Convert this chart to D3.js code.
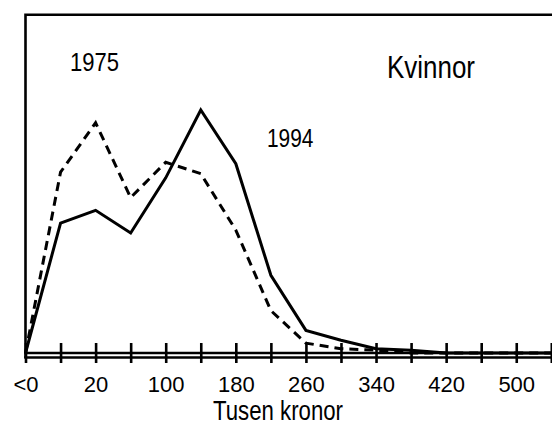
<!DOCTYPE html>
<html>
<head>
<meta charset="utf-8">
<script src="https://cdn.jsdelivr.net/npm/d3@7"></script>
<style>
  html, body { margin: 0; padding: 0; background: #fff; }
  svg { display: block; }
</style>
</head>
<body>
<svg id="chart" width="552" height="429"></svg>
<script>
// ---- data ----
const categories = ["<0","0","20","60","100","140","180","220","260","300","340","380","420","460","500","540"];
const tickLabels = ["<0","20","100","180","260","340","420","500"];
const women1994 = [0, 9.2, 10.1, 8.5, 12.4, 17.2, 13.4, 5.5, 1.6, 0.9, 0.3, 0.2, 0, 0, 0, 0];
const women1975 = [0, 12.8, 16.3, 11.0, 13.5, 12.7, 8.7, 3.0, 0.7, 0.3, 0.2, 0, 0, 0, 0, 0];
const seriesLabels = ["1975", "1994"];
const title = "Kvinnor";
const xTitle = "Tusen kronor";

// ---- layout ----
const svg = d3.select("#chart");
const narrow = "'Liberation Sans Narrow', 'Arial Narrow', 'Liberation Sans', Arial, sans-serif";
const regular = "'Liberation Sans', Arial, sans-serif";

const x = d3.scalePoint().domain(categories).range([25.5, 551.3]).padding(0);
const y = d3.scaleLinear().domain([0, 24]).range([353, 14]);

// frame (left + top border)
svg.append("path")
  .attr("d", `M25.5,358 V14.7 H560`)
  .attr("fill", "none").attr("stroke", "#000").attr("stroke-width", 2.6);

// data lines
const line = d3.line()
  .x((d, i) => x(categories[i]))
  .y(d => y(d));

svg.append("path")
  .datum(women1975)
  .attr("d", line)
  .attr("fill", "none").attr("stroke", "#000")
  .attr("stroke-width", 3).attr("stroke-dasharray", "9,6")
  .attr("stroke-linejoin", "miter");

svg.append("path")
  .datum(women1994)
  .attr("d", line)
  .attr("fill", "none").attr("stroke", "#000")
  .attr("stroke-width", 3)
  .attr("stroke-linejoin", "miter");

// double axis line
[y(0), y(0) + 4.5].forEach(yy => {
  svg.append("line")
    .attr("x1", 24.2).attr("x2", 560).attr("y1", yy).attr("y2", yy)
    .attr("stroke", "#000").attr("stroke-width", 2.6);
});

// axis with ticks crossing the double line
const axis = d3.axisBottom(x)
  .tickValues(categories)
  .tickSize(20)
  .tickPadding(13)
  .tickFormat(d => tickLabels.includes(d) ? d : "");

const gAxis = svg.append("g")
  .attr("transform", `translate(0,343)`)
  .call(axis);
gAxis.select(".domain").remove();
gAxis.selectAll(".tick line").attr("stroke", "#000").attr("stroke-width", 2.6);
gAxis.selectAll(".tick text")
  .filter(function() { return !d3.select(this).text(); }).remove();
gAxis.selectAll(".tick text")
  .attr("fill", "#000")
  .attr("dy", "0.72em")
  .style("font-family", regular)
  .style("font-size", "22px");

// text helper with enforced width
function label(txt, xx, yy, size, width, anchor) {
  svg.append("text")
    .attr("x", xx).attr("y", yy)
    .attr("text-anchor", anchor || "start")
    .attr("textLength", width).attr("lengthAdjust", "spacingAndGlyphs")
    .style("font-family", narrow)
    .style("font-size", size + "px")
    .attr("fill", "#000")
    .text(txt);
}

label(seriesLabels[0], 70, 71, 25, 49);
label(seriesLabels[1], 267, 146.5, 25.5, 46.5);
label(title, 387, 78, 32, 88);
label(xTitle, 278, 420, 27, 130, "middle");
</script>
</body>
</html>
